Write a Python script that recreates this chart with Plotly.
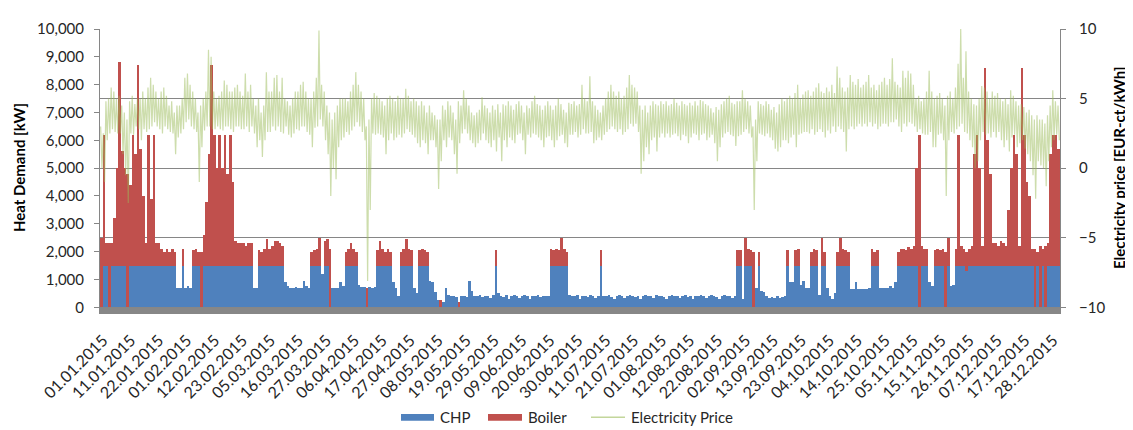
import plotly.graph_objects as go

# ---------------- data (daily values) ----------------
DAYS = list(range(365))

CHP = [
    0, 1500, 1500, 0, 1500, 1500, 1500, 1500, 1500, 1500,
    0, 1500, 1500, 1500, 1500, 1500, 1500, 1500, 1500, 1500,
    1500, 1500, 1500, 1500, 1500, 1500, 1500, 1500, 1500, 700,
    700, 1500, 700, 750, 700, 1500, 1500, 1500, 0, 1500,
    1500, 1500, 1500, 1500, 1500, 1500, 1500, 1500, 1500, 1500,
    1500, 1500, 1500, 1500, 1500, 1500, 1500, 1500, 700, 700,
    1500, 1500, 1500, 1500, 1500, 1500, 1500, 1500, 1500, 1500,
    900, 750, 700, 700, 720, 700, 700, 950, 750, 700,
    1500, 1500, 1500, 1500, 1200, 1500, 1500, 0, 700, 700,
    700, 900, 750, 1500, 1500, 1500, 1500, 1500, 800, 720,
    720, 0, 720, 700, 720, 1500, 1500, 1500, 1500, 1500,
    1500, 900, 700, 400, 1500, 1500, 1500, 1500, 1500, 700,
    500, 1500, 1500, 1500, 1500, 950, 900, 550, 250, 0,
    200, 700, 450, 400, 420, 380, 0, 400, 420, 380,
    950, 600, 420, 400, 430, 380, 420, 400, 350, 430,
    1500, 500, 420, 380, 430, 300, 410, 430, 400, 350,
    420, 430, 390, 300, 420, 410, 430, 380, 400, 420,
    400, 1500, 1500, 1500, 1500, 1500, 1500, 1500, 450, 420,
    400, 430, 300, 410, 420, 380, 430, 400, 350, 420,
    1500, 420, 400, 430, 380, 300, 410, 430, 420, 350,
    400, 430, 410, 380, 420, 300, 400, 430, 420, 410,
    350, 430, 400, 420, 380, 300, 420, 430, 410, 400,
    350, 420, 430, 380, 410, 300, 420, 400, 430, 410,
    350, 420, 430, 400, 380, 300, 410, 430, 420, 400,
    350, 420, 1500, 1500, 300, 1500, 1500, 1500, 0, 700,
    1500, 600, 550, 400, 350, 380, 350, 400, 350, 380,
    400, 1500, 900, 900, 1500, 1500, 800, 950, 700, 700,
    1500, 1500, 1500, 450, 1500, 1500, 700, 400, 300, 500,
    1500, 1500, 1500, 1500, 1500, 650, 650, 900, 650, 650,
    650, 650, 700, 1500, 1500, 1500, 700, 700, 700, 700,
    750, 700, 900, 1500, 1500, 1500, 1500, 1500, 1500, 1500,
    1500, 0, 1500, 1500, 1500, 900, 750, 1500, 1500, 1500,
    1500, 0, 1500, 750, 800, 1500, 1500, 1500, 1500, 1300,
    1500, 1500, 1500, 1500, 1500, 1500, 1500, 1500, 1500, 1500,
    1500, 1500, 1500, 1500, 1500, 1500, 1500, 1500, 1500, 1500,
    1500, 1500, 1500, 1500, 1500, 0, 1500, 0, 1500, 0,
    1500, 1500, 1500, 1500, 1500,
]

BOILER = [
    2500, 4700, 800, 2300, 800, 1700, 3500, 7300, 4100, 3500,
    4800, 2900, 4700, 4000, 7200, 4200, 2500, 800, 4700, 2400,
    4700, 800, 800, 600, 500, 600, 500, 600, 500, 0,
    0, 600, 0, 0, 0, 550, 600, 500, 2000, 1100,
    2300, 4000, 7200, 4700, 3500, 4700, 3500, 4700, 3300, 4700,
    3000, 900, 800, 800, 800, 700, 800, 800, 0, 0,
    550, 500, 600, 950, 600, 700, 900, 900, 800, 700,
    0, 0, 0, 0, 0, 0, 0, 0, 0, 0,
    500, 550, 600, 1000, 0, 900, 950, 2100, 0, 0,
    0, 0, 0, 500, 600, 800, 600, 500, 0, 0,
    0, 700, 0, 0, 0, 550, 900, 600, 500, 600,
    500, 0, 0, 0, 500, 600, 950, 600, 550, 0,
    0, 550, 600, 550, 500, 0, 0, 0, 0, 250,
    0, 0, 0, 0, 0, 0, 200, 0, 0, 0,
    0, 0, 0, 0, 0, 0, 0, 0, 0, 0,
    550, 0, 0, 0, 0, 0, 0, 0, 0, 0,
    0, 0, 0, 0, 0, 0, 0, 0, 0, 0,
    0, 600, 550, 600, 550, 1000, 600, 500, 0, 0,
    0, 0, 0, 0, 0, 0, 0, 0, 0, 0,
    550, 0, 0, 0, 0, 0, 0, 0, 0, 0,
    0, 0, 0, 0, 0, 0, 0, 0, 0, 0,
    0, 0, 0, 0, 0, 0, 0, 0, 0, 0,
    0, 0, 0, 0, 0, 0, 0, 0, 0, 0,
    0, 0, 0, 0, 0, 0, 0, 0, 0, 0,
    0, 0, 550, 550, 0, 1000, 600, 550, 2000, 0,
    500, 0, 0, 0, 0, 0, 0, 0, 0, 0,
    0, 550, 0, 0, 550, 600, 0, 0, 0, 0,
    500, 600, 550, 0, 1000, 500, 0, 0, 0, 0,
    500, 1000, 600, 550, 500, 0, 0, 0, 0, 0,
    0, 0, 0, 600, 500, 550, 0, 0, 0, 0,
    0, 0, 0, 500, 600, 600, 550, 650, 600, 700,
    3500, 6200, 700, 600, 600, 0, 0, 550, 600, 550,
    600, 2000, 1000, 0, 0, 600, 4700, 700, 600, 700,
    600, 700, 4000, 4700, 3500, 700, 7100, 4500, 3300, 800,
    800, 700, 900, 800, 700, 2000, 3500, 4700, 4000, 700,
    7100, 4700, 3000, 2500, 600, 2100, 500, 2200, 600, 2200,
    800, 4000, 4700, 4700, 4200,
]

PRICE_HIGH = [
    3.0, 2.5, 4.8, 5.0, 5.8, 5.5, 5.0, 5.2, 4.5, 4.0,
    3.5, 4.8, 5.2, 4.6, 5.0, 5.0, 5.5, 5.0, 5.8, 6.5,
    6.0, 5.5, 5.0, 5.5, 5.8, 5.2, 4.5, 4.8, 4.0, 4.5,
    4.5, 5.0, 6.5, 6.8, 6.0, 5.5, 5.0, 4.0, 4.5, 5.0,
    5.5, 8.5, 8.0, 5.5, 5.0, 5.2, 5.5, 6.3, 6.0, 5.5,
    5.5, 5.8, 6.0, 5.5, 5.2, 6.8, 5.5, 6.0, 5.0, 4.5,
    5.0, 4.0, 4.5, 6.9, 5.5, 5.5, 6.5, 6.7, 5.5, 6.5,
    5.0, 4.8, 4.5, 5.0, 5.5, 5.5, 6.0, 6.2, 5.5, 5.0,
    5.0, 5.5, 6.5, 9.9, 6.0, 5.5, 4.5, 4.0, 3.5, 4.0,
    4.5, 5.0, 5.0, 5.0, 4.8, 5.5, 6.0, 6.9, 6.0, 5.5,
    5.0, 3.0, 3.5, 5.0, 5.4, 5.2, 5.0, 4.8, 4.5, 5.0,
    5.2, 5.0, 4.8, 5.2, 5.0, 5.0, 5.7, 5.2, 4.8, 5.0,
    4.8, 4.5, 4.8, 4.5, 4.0, 4.5, 4.0, 3.8, 3.5, 3.5,
    4.5, 4.2, 4.8, 4.5, 4.0, 3.5, 4.8, 4.5, 5.6, 5.0,
    4.5, 4.0, 3.8, 4.0, 4.2, 5.1, 4.5, 4.3, 4.0, 4.5,
    4.2, 4.6, 4.0, 4.6, 4.5, 4.8, 4.5, 4.2, 4.6, 4.8,
    4.5, 4.0, 4.5, 4.3, 4.8, 5.2, 4.6, 4.5, 4.2, 4.5,
    4.8, 4.5, 4.2, 4.5, 5.0, 4.6, 4.2, 4.0, 4.7, 4.6,
    4.8, 4.5, 4.6, 6.0, 5.0, 4.8, 6.6, 4.8, 4.5, 4.2,
    4.0, 4.5, 5.0, 5.5, 6.0, 5.5, 5.2, 5.5, 5.0, 5.2,
    5.8, 6.7, 6.0, 5.8, 5.5, 4.5, 4.2, 4.5, 4.0, 4.5,
    4.8, 4.6, 4.5, 4.8, 4.6, 4.8, 4.5, 4.6, 5.0, 4.7,
    4.5, 4.8, 4.6, 4.5, 4.7, 4.5, 4.8, 4.5, 4.9, 4.8,
    4.6, 4.5, 4.3, 4.0, 4.4, 4.2, 4.6, 4.8, 5.0, 5.2,
    4.7, 4.6, 4.8, 4.8, 5.6, 5.0, 4.8, 4.5, 3.0, 3.5,
    4.8, 4.6, 4.5, 4.8, 4.6, 4.2, 4.4, 4.0, 4.6, 5.0,
    4.8, 5.0, 5.2, 5.0, 5.4, 6.0, 5.0, 5.3, 5.5, 5.6,
    5.2, 5.5, 5.8, 6.1, 5.5, 5.4, 5.8, 5.5, 6.0, 5.4,
    7.3, 6.5, 5.8, 5.5, 5.8, 6.7, 6.2, 6.0, 6.4, 5.8,
    6.0, 6.2, 6.7, 5.8, 6.0, 5.6, 6.0, 6.2, 6.5, 6.0,
    6.4, 7.9, 6.2, 6.0, 5.8, 7.0, 6.5, 7.0, 6.8, 6.0,
    5.0, 5.2, 4.8, 5.0, 5.5, 7.0, 5.5, 5.0, 5.2, 5.4,
    5.0, 4.5, 5.2, 5.5, 5.0, 5.8, 7.5, 10.0, 6.5, 8.4,
    5.5, 5.0, 4.6, 4.5, 5.0, 5.9, 5.8, 5.5, 5.0, 5.5,
    5.2, 5.4, 5.0, 4.8, 5.0, 4.6, 5.6, 5.2, 4.8, 4.5,
    4.6, 4.4, 4.0, 4.2, 3.8, 3.5, 3.8, 3.5, 3.5, 3.2,
    3.8, 4.5, 5.6, 4.8, 4.5,
]

PRICE_LOW = [
    0.0, -1.0, 2.0, 2.5, 2.8, 2.6, 2.5, 2.5, 1.0, -0.5,
    -2.5, 2.5, 2.4, 3.0, 2.8, 2.0, 2.8, 2.6, 2.8, 3.0,
    3.3, 3.0, 2.8, 2.5, 3.0, 2.8, 2.6, 2.5, 1.0, 2.2,
    2.5, 2.8, 3.3, 3.5, 3.0, 2.8, 2.6, -1.0, 1.5, 2.7,
    3.0, 3.0, 2.8, 2.8, 3.0, 2.8, 2.7, 3.0, 3.0, 2.8,
    2.6, 3.0, 3.0, 2.8, 2.8, 3.0, 2.6, 3.0, 2.5, 1.5,
    2.0, 0.8, 2.0, 2.6, 2.6, 3.0, 2.7, 3.0, 2.6, 2.5,
    3.0, 2.4, 2.2, 2.5, 2.8, 2.7, 3.0, 3.0, 2.6, 2.4,
    1.5, 2.9, 3.0, 3.5, 3.0, 2.0, 1.0, -2.0, 0.0, -0.8,
    1.5, 2.0, 2.2, 2.6, 2.4, 2.7, 3.0, 3.3, 3.0, 2.6,
    2.0, -8.1, -3.0, 2.5, 2.4, 2.5, 2.4, 2.2, 1.0, 2.0,
    2.5, 2.0, 2.2, 2.4, 2.2, 2.5, 2.8, 2.6, 2.4, 2.2,
    1.8, 1.5, 2.0, 1.8, 1.0, 2.0, 2.0, 1.5, -1.5, 0.5,
    2.0, 1.5, 2.2, 2.0, 1.0, -0.4, 1.8, 2.5, 2.8, 2.5,
    2.0, 1.8, 1.5, 1.8, 2.0, 2.5, 2.0, 1.8, 1.5, 2.0,
    1.2, 2.2, 0.5, 2.0, 1.5, 2.2, 2.0, 1.8, 2.4, 2.5,
    2.0, 1.0, 2.4, 2.2, 2.5, 2.4, 2.2, 2.0, 1.5, 2.2,
    2.3, 2.0, 1.5, 2.0, 2.3, 2.4, 1.8, 1.5, 2.4, 2.4,
    2.6, 2.2, 2.4, 2.8, 2.5, 2.5, 2.6, 1.8, 2.0, 2.2,
    2.0, 2.4, 2.6, 2.8, 3.0, 2.8, 2.6, 2.8, 2.4, 2.6,
    2.8, 3.2, 3.0, 3.2, 2.6, -0.4, 0.5, 1.5, 1.0, 2.0,
    2.2, 1.2, 2.2, 2.5, 2.2, 2.5, 2.2, 2.4, 2.5, 2.3,
    2.0, 2.4, 2.3, 1.8, 2.2, 2.5, 2.4, 2.0, 2.4, 2.5,
    2.0, 2.2, 2.4, 1.8, 0.5, 1.5, 2.2, 2.5, 2.6, 2.4,
    2.3, 1.6, 2.3, 2.4, 2.6, 2.8, 2.5, 2.2, -3.0, 0.5,
    2.5, 2.4, 2.3, 2.5, 2.2, 2.0, 1.4, 1.2, 1.5, 2.0,
    2.0, 1.8, 2.2, 2.4, 1.5, 2.4, 2.5, 2.6, 2.6, 2.5,
    2.8, 2.4, 2.6, 2.8, 2.6, 2.2, 2.7, 2.5, 3.0, 2.6,
    3.0, 2.8, 2.6, 1.2, 2.8, 3.0, 2.8, 3.0, 3.2, 3.0,
    3.2, 3.0, 3.3, 3.0, 3.2, 2.8, 3.0, 3.2, 3.2, 3.0,
    3.3, 3.3, 3.5, 3.0, 2.6, 3.2, 3.0, 3.3, 3.2, 3.0,
    2.6, 2.8, 2.5, 2.4, 2.4, 2.6, 1.5, 1.5, 2.4, 2.5,
    2.0, -2.0, 2.0, 2.6, 2.5, 2.8, 3.0, 3.2, 2.6, 2.5,
    2.0, 1.5, 0.0, 0.5, 2.0, 2.6, 2.4, 2.5, 2.2, 2.6,
    2.2, 2.6, 2.0, 1.5, 2.0, 1.2, 2.2, 2.4, 1.5, 1.8,
    2.0, 1.4, 1.0, 0.5, -0.5, -2.2, 0.5, 0.2, 0.0, -1.3,
    0.5, 1.5, 2.0, 2.4, 2.0,
]

DATE_LABELS = [
    "01.01.2015", "11.01.2015", "22.01.2015", "01.02.2015", "12.02.2015",
    "23.02.2015", "05.03.2015", "16.03.2015", "27.03.2015", "06.04.2015",
    "17.04.2015", "27.04.2015", "08.05.2015", "19.05.2015", "29.05.2015",
    "09.06.2015", "20.06.2015", "30.06.2015", "11.07.2015", "21.07.2015",
    "01.08.2015", "12.08.2015", "22.08.2015", "02.09.2015", "13.09.2015",
    "23.09.2015", "04.10.2015", "14.10.2015", "25.10.2015", "05.11.2015",
    "15.11.2015", "26.11.2015", "07.12.2015", "17.12.2015", "28.12.2015",
]
LABEL_INTERVAL_HOURS = 255

for _name, _arr in [("CHP", CHP), ("BOILER", BOILER),
                    ("PRICE_HIGH", PRICE_HIGH), ("PRICE_LOW", PRICE_LOW)]:
    assert len(_arr) == len(DAYS), (_name, len(_arr))

# ---------------- build figure ----------------
price_x, price_y = [], []
for d, hi, lo in zip(DAYS, PRICE_HIGH, PRICE_LOW):
    price_x += [d - 0.25, d + 0.25]
    price_y += [hi, lo]

tickvals = [(LABEL_INTERVAL_HOURS * k + 0.5) / 24 - 0.5 for k in range(len(DATE_LABELS))]

FONT = "Lato"
TXT = "#262626"
GRID = "#868686"

fig = go.Figure()
fig.add_trace(go.Bar(x=DAYS, y=CHP, name="CHP",
                     marker=dict(color="#4F81BD", line=dict(width=0))))
fig.add_trace(go.Bar(x=DAYS, y=BOILER, name="Boiler",
                     marker=dict(color="#C0504D", line=dict(width=0))))
fig.add_trace(go.Scatter(x=price_x, y=price_y, name="Electricity Price", yaxis="y2",
                         mode="lines", line=dict(color="rgba(155,187,89,0.5)", width=1.2)))

# page body has an 8px margin: figure size/margins compensate for it
BODY = 8
W, H = 1125, 422
ML, MR, MT, MB = 92, 73, 11, 116
PW, PH = W - ML - MR, H - MT - MB


def px(x):  # page pixel -> paper
    return (x - BODY - ML) / PW


def py(y):  # page pixel -> paper
    return (H - MB - (y - BODY)) / PH


fig.update_layout(
    width=W, height=H,
    margin=dict(l=ML, r=MR, t=MT, b=MB, pad=0),
    paper_bgcolor="white", plot_bgcolor="white",
    font=dict(family=FONT, size=15, color=TXT),
    barmode="stack", bargap=0, showlegend=False,
    xaxis=dict(range=[-0.5, 364.5], tickmode="array", tickvals=tickvals, ticktext=DATE_LABELS,
               tickangle=-45, showgrid=False, zeroline=False, showline=False, ticks="",
               ticklabelstandoff=13, ticklabelshift=3,
               tickfont=dict(size=16, color=TXT)),
    yaxis=dict(range=[-240, 10000], tickmode="array", tickvals=list(range(0, 10001, 1000)),
               tickformat=",", showgrid=False, zeroline=False, showline=True, linecolor=GRID,
               linewidth=1, ticks="outside", ticklen=5, tickcolor=GRID,
               ticklabelstandoff=7,
               tickfont=dict(size=15, color=TXT)),
    yaxis2=dict(overlaying="y", side="right", range=[-10.48, 10], tickmode="array",
                tickvals=[-10, -5, 0, 5, 10], showgrid=True, gridcolor=GRID, gridwidth=1,
                zeroline=False, showline=True, linecolor=GRID, linewidth=1,
                ticks="outside", ticklen=5, tickcolor=GRID, ticklabelstandoff=10,
                tickfont=dict(size=15, color=TXT)),
)

# grey floor band below zero
fig.add_shape(type="rect", xref="paper", x0=0, x1=1, yref="y", y0=-240, y1=0,
              fillcolor="#878787", line=dict(width=0), layer="below")

# axis titles
fig.add_annotation(text="<b>Heat Demand [kW]</b>", xref="paper", yref="paper",
                   x=px(19), y=py(163), textangle=-90, showarrow=False,
                   xanchor="center", yanchor="middle", font=dict(size=15, color="black"))
fig.add_annotation(text="<b>Electricity price [EUR-ct/kWh]</b>", xref="paper", yref="paper",
                   x=px(1119), y=py(163), textangle=-90, showarrow=False,
                   xanchor="center", yanchor="middle", font=dict(size=15, color="black"))

# custom legend
LEG_Y = 421
fig.add_shape(type="rect", xref="paper", yref="paper", x0=px(401), x1=px(434),
              y0=py(424.5), y1=py(417.5), fillcolor="#4F81BD", line=dict(width=0))
fig.add_shape(type="rect", xref="paper", yref="paper", x0=px(488), x1=px(522),
              y0=py(424.5), y1=py(417.5), fillcolor="#C0504D", line=dict(width=0))
fig.add_shape(type="line", xref="paper", yref="paper", x0=px(591), x1=px(625),
              y0=py(LEG_Y), y1=py(LEG_Y), line=dict(color="rgba(155,187,89,0.6)", width=1.5))
for label, x in [("CHP", 438), ("Boiler", 526), ("Electricity Price", 629)]:
    fig.add_annotation(text=label, xref="paper", yref="paper", x=px(x), y=py(LEG_Y),
                       showarrow=False, xanchor="left", yanchor="middle",
                       font=dict(size=15, color=TXT))

fig.write_html("out.html")
